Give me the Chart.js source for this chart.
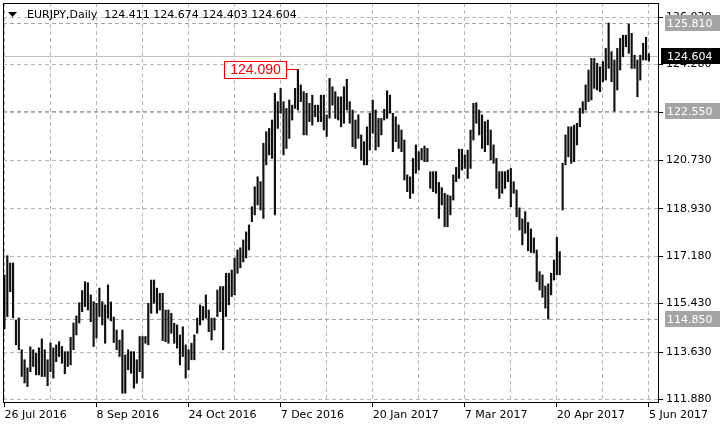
<!DOCTYPE html>
<html>
<head>
<meta charset="utf-8">
<script src="https://cdn.jsdelivr.net/npm/chart.js@4.4.0/dist/chart.umd.min.js"></script>
<style>
  html, body { margin: 0; padding: 0; background: #fff; }
</style>
</head>
<body>
<canvas id="chart" width="720" height="432"></canvas>
<script>
// EURJPY daily bars
const symbolTitle = 'EURJPY,Daily';
const lastOHLC = [124.411, 124.674, 124.403, 124.604];
const firstDay = '2016-07-26';
const rightShiftBars = 3; // empty days kept at the right edge

const xTickLabels = ['26 Jul 2016', '8 Sep 2016', '24 Oct 2016', '7 Dec 2016',
    '20 Jan 2017', '7 Mar 2017', '20 Apr 2017', '5 Jun 2017'];
const yTickValues = [111.88, 113.63, 115.43, 117.18, 118.93, 120.73, 122.48, 124.28, 126.03];
const levelLines = [125.81, 122.55, 114.85];
const peakLabel = 124.09;

const highs = [
    116.49, 117.20, 116.93, 116.93, 114.82, 114.90, 113.72, 113.35, 113.05, 113.83,
    113.72, 113.60, 113.79, 114.12, 113.72, 113.35, 113.97, 113.79, 113.90, 114.02,
    113.84, 113.65, 113.65, 114.18, 114.71, 114.97, 115.46, 115.91, 116.24, 116.20,
    115.75, 115.50, 115.44, 116.00, 115.50, 115.38, 116.12, 115.49, 114.93, 114.45,
    114.08, 114.45, 113.53, 113.72, 113.65, 113.65, 113.35, 114.21, 114.21, 114.21,
    115.44, 116.30, 116.30, 116.00, 115.81, 115.81, 115.19, 115.19, 115.07, 114.70,
    114.64, 114.27, 114.57, 113.90, 113.72, 113.96, 114.27, 114.89, 115.38, 115.32,
    115.75, 115.19, 114.89, 114.89, 115.93, 116.06, 116.06, 116.55, 116.55, 116.67,
    117.11, 117.41, 117.49, 117.78, 118.08, 118.34, 119.01, 119.75, 120.12, 119.94,
    121.36, 121.79, 121.91, 122.22, 123.21, 122.90, 123.39, 122.90, 122.65, 122.96,
    122.77, 123.39, 124.09, 123.52, 123.27, 123.21, 122.84, 123.14, 122.77, 122.77,
    123.14, 123.14, 122.41, 123.76, 123.45, 123.27, 123.08, 123.08, 123.45, 123.73,
    122.90, 122.59, 122.22, 122.41, 121.67, 121.42, 121.97, 122.47, 122.96, 122.59,
    122.28, 122.28, 122.62, 123.30, 123.14, 122.47, 122.34, 122.04, 121.85, 121.48,
    120.19, 120.12, 120.80, 121.30, 121.05, 121.17, 121.26, 121.17, 120.31, 120.31,
    120.31, 119.91, 119.72, 119.51, 119.45, 119.41, 120.19, 120.47, 121.14, 121.14,
    120.93, 121.11, 121.85, 122.84, 122.86, 122.59, 122.41, 122.16, 122.22, 121.85,
    121.30, 120.80, 120.31, 120.31, 120.31, 120.37, 120.43, 119.94, 119.63, 118.97,
    118.56, 118.83, 118.43, 118.19, 117.86, 117.41, 116.61, 116.49, 116.08, 116.16,
    116.55, 117.04, 117.88, 117.35, 120.62, 121.67, 121.97, 121.97, 122.03, 122.10,
    122.65, 122.90, 123.52, 124.07, 124.50, 124.50, 124.32, 124.19, 124.38, 124.87,
    125.81, 124.75, 124.44, 124.87, 125.24, 125.36, 125.36, 125.77, 125.43, 124.62,
    124.44, 124.62, 125.06, 125.28, 124.674
];
const lows = [
    114.49, 114.95, 115.87, 114.90, 113.90, 113.72, 112.73, 112.49, 112.36, 112.91,
    113.10, 112.79, 112.79, 112.73, 112.73, 112.39, 112.91, 112.67, 113.28, 113.47,
    113.22, 112.83, 113.10, 113.16, 113.72, 114.27, 114.71, 115.13, 115.32, 115.19,
    114.76, 113.84, 114.15, 114.95, 114.64, 113.96, 114.89, 114.79, 113.99, 113.72,
    113.47, 112.11, 112.11, 112.98, 112.85, 112.30, 112.48, 112.91, 112.67, 113.96,
    113.90, 115.07, 115.44, 115.07, 115.19, 114.06, 114.02, 113.96, 114.33, 113.96,
    113.78, 113.16, 113.47, 112.67, 112.98, 113.35, 113.35, 114.33, 114.64, 114.82,
    114.89, 114.39, 114.08, 114.45, 114.95, 115.13, 113.72, 114.95, 115.38, 115.69,
    115.75, 116.55, 116.75, 116.97, 117.12, 117.41, 118.46, 118.71, 119.08, 118.89,
    118.58, 120.56, 120.93, 120.80, 118.71, 121.91, 122.47, 120.93, 121.17, 121.54,
    122.22, 122.65, 122.59, 122.90, 121.67, 121.67, 122.16, 122.03, 122.34, 122.16,
    122.16, 121.85, 121.61, 122.29, 122.77, 122.28, 122.22, 121.97, 122.10, 122.59,
    122.10, 121.23, 121.17, 121.54, 120.74, 120.56, 120.56, 121.11, 121.73, 121.11,
    121.23, 121.67, 122.22, 122.28, 122.47, 121.05, 121.42, 121.17, 121.05, 120.00,
    119.57, 119.32, 119.51, 120.25, 120.37, 120.74, 120.68, 120.68, 119.69, 119.57,
    119.51, 118.58, 119.08, 118.27, 118.27, 118.71, 119.26, 119.94, 120.06, 120.37,
    120.43, 120.06, 120.43, 121.48, 122.10, 121.67, 121.17, 121.05, 121.30, 120.74,
    120.62, 119.69, 119.32, 119.51, 119.69, 119.94, 119.01, 119.51, 118.64, 118.15,
    117.60, 118.03, 117.38, 117.32, 117.30, 116.24, 115.93, 115.66, 115.26, 114.85,
    115.75, 116.30, 116.49, 116.49, 118.89, 120.56, 120.86, 120.62, 120.68, 121.30,
    121.97, 122.47, 122.59, 122.90, 122.96, 123.39, 123.33, 123.27, 123.64, 123.70,
    124.13, 123.64, 122.55, 123.33, 124.07, 124.56, 124.93, 124.69, 124.13, 124.13,
    123.08, 123.70, 124.44, 124.44, 124.403
];

// trading days (Mon-Fri) as categories
const months = ['Jan', 'Feb', 'Mar', 'Apr', 'May', 'Jun', 'Jul', 'Aug', 'Sep', 'Oct', 'Nov', 'Dec'];
const days = [];
for (let d = new Date(firstDay + 'T00:00:00Z'); days.length < highs.length + rightShiftBars; d.setUTCDate(d.getUTCDate() + 1)) {
    const wd = d.getUTCDay();
    if (wd === 0 || wd === 6) continue;
    days.push(d.getUTCDate() + ' ' + months[d.getUTCMonth()] + ' ' + d.getUTCFullYear());
}

const FONT = 'DejaVu Sans';

// extra drawing: frame, level lines, price tags, header
const overlay = {
    id: 'overlay',
    beforeDatasetsDraw(chart) {
        const {ctx, chartArea: a, scales: {y}} = chart;
        ctx.save();
        ctx.lineWidth = 1;
        ctx.strokeStyle = '#a4a4a4';
        ctx.setLineDash([4, 3]);
        levelLines.forEach(v => {
            const py = Math.round(y.getPixelForValue(v)) + 0.5;
            ctx.beginPath(); ctx.moveTo(a.left, py); ctx.lineTo(a.right, py); ctx.stroke();
        });
        ctx.setLineDash([]);
        ctx.strokeStyle = '#c0c0c0';
        const by = Math.round(y.getPixelForValue(lastOHLC[3])) + 0.5;
        ctx.beginPath(); ctx.moveTo(a.left, by); ctx.lineTo(a.right, by); ctx.stroke();
        ctx.restore();
    },
    afterDraw(chart) {
        const {ctx, chartArea: a, scales: {x, y}} = chart;
        ctx.save();
        // frame
        ctx.strokeStyle = '#000';
        ctx.lineWidth = 1;
        ctx.strokeRect(a.left + 0.5, a.top + 0.5, a.width - 1, a.height - 1);

        // header
        ctx.fillStyle = '#000';
        ctx.beginPath(); ctx.moveTo(8, 12); ctx.lineTo(17, 12); ctx.lineTo(12.5, 17); ctx.closePath(); ctx.fill();
        ctx.font = '11px "' + FONT + '"';
        ctx.textBaseline = 'middle';
        ctx.textAlign = 'left';
        ctx.fillText(symbolTitle + '  ' + lastOHLC.map(v => v.toFixed(3)).join(' '), 27, 15);

        // peak label
        const pi = highs.indexOf(peakLabel);
        const px = x.getPixelForValue(pi);
        const py = Math.round(y.getPixelForValue(peakLabel)) + 0.5;
        const bw = 62, bh = 17, bx = Math.round(px - 12 - bw) + 0.5;
        ctx.fillStyle = '#fff';
        ctx.fillRect(bx, py - 8, bw, bh);
        ctx.strokeStyle = '#ff0000';
        ctx.strokeRect(bx, py - 8, bw, bh);
        ctx.beginPath(); ctx.moveTo(bx + bw, py); ctx.lineTo(px, py); ctx.stroke();
        ctx.fillStyle = '#ff0000';
        ctx.font = '14px "Liberation Sans"';
        ctx.textAlign = 'center';
        ctx.fillText(peakLabel.toFixed(3), bx + bw / 2, py + 1);

        // price tags on the right axis
        ctx.font = '11px "' + FONT + '"';
        ctx.textAlign = 'left';
        const tag = (v, bg, x0) => {
            const ty = Math.round(y.getPixelForValue(v));
            ctx.fillStyle = bg;
            ctx.fillRect(x0, ty - 8, chart.width - x0, 16);
            ctx.fillStyle = '#fff';
            ctx.fillText(v.toFixed(3), 667, ty + 1);
        };
        levelLines.forEach(v => tag(v, '#a4a4a4', 665));
        tag(lastOHLC[3], '#000', 661);
        ctx.restore();
    }
};

new Chart(document.getElementById('chart'), {
    type: 'bar',
    data: {
        labels: days,
        datasets: [{
            data: highs.map((h, i) => [lows[i], h]),
            backgroundColor: '#111',
            borderWidth: 0,
            barThickness: 1.5
        }]
    },
    options: {
        responsive: false,
        animation: false,
        devicePixelRatio: 1,
        layout: { padding: { left: 3, top: 3, right: 0, bottom: 0 } },
        plugins: { legend: { display: false }, tooltip: { enabled: false } },
        scales: {
            x: {
                offset: true,
                afterBuildTicks: s => { s.ticks = s.ticks.filter(t => t.value % 16 === 0); },
                afterFit: s => { s.height = 29; s.paddingLeft = 0; s.paddingRight = 0; },
                grid: {
                    offset: false,
                    color: '#b8b8b8',
                    lineWidth: 1,
                    tickLength: 4,
                    tickBorderDash: [],
                    tickColor: c => (c.tick && xTickLabels.includes(days[c.tick.value])) ? '#000' : 'rgba(0,0,0,0)'
                },
                border: { display: false, dash: [4, 3] },
                ticks: {
                    autoSkip: false,
                    maxRotation: 0,
                    align: 'start',
                    padding: 2,
                    color: '#000',
                    font: { family: FONT, size: 11 },
                    callback: function (v) {
                        const l = this.getLabelForValue(v);
                        return xTickLabels.includes(l) ? l : '';
                    }
                }
            },
            y: {
                position: 'right',
                min: 111.75,
                max: 126.55,
                afterBuildTicks: s => { s.ticks = yTickValues.map(v => ({ value: v })); },
                afterFit: s => { s.width = 61; s.paddingTop = 0; s.paddingBottom = 0; },
                grid: {
                    color: '#b8b8b8',
                    lineWidth: 1,
                    tickLength: 4,
                    tickBorderDash: [],
                    tickColor: '#000'
                },
                border: { display: false, dash: [4, 3] },
                ticks: {
                    autoSkip: false,
                    padding: 3,
                    color: '#000',
                    font: { family: FONT, size: 11 },
                    callback: v => v.toFixed(3)
                }
            }
        }
    },
    plugins: [overlay]
});
</script>
</body>
</html>
